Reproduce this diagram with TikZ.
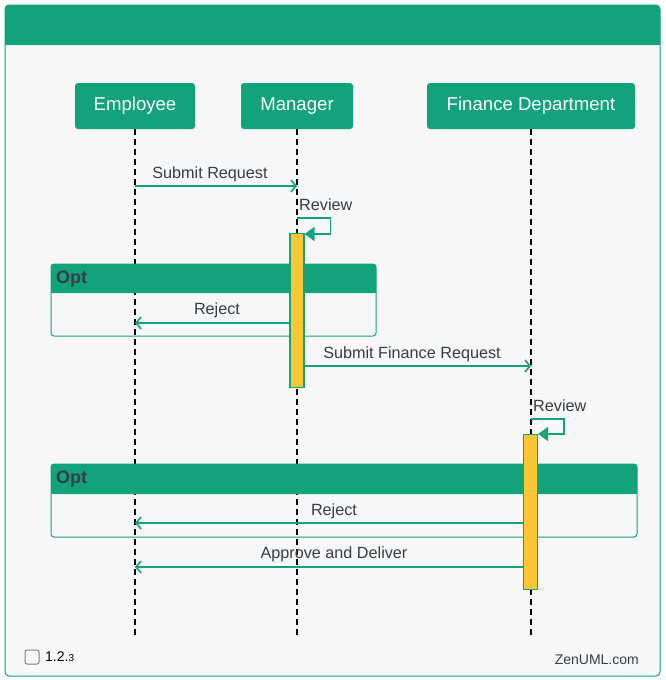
\documentclass[tikz,border=0pt]{standalone}
\usepackage{fontspec}
\setmainfont{Liberation Sans}
\usetikzlibrary{arrows.meta,positioning}
\definecolor{zengreen}{RGB}{18,163,124}
\definecolor{zenyellow}{RGB}{250,199,52}
\definecolor{zentext}{RGB}{55,60,70}
\definecolor{zenbg}{RGB}{247,247,247}

\begin{document}
\begin{tikzpicture}[x = 1pt, y = -1pt,
		actor_node/.style = {rectangle, rounded corners = 3pt, fill = zengreen, text = white, font = \fontsize{18.6}{20}\selectfont, minimum height = 46pt, inner sep = 0pt},
		bar_node/.style = {rectangle, draw = zengreen, fill = zenyellow, line width = 1.2pt, minimum width = 14pt, inner sep = 0pt, anchor = north},
		msg_line/.style = {draw = zengreen, line width = 1.6pt, -{Straight Barb[length = 5pt, width = 12pt]}},
		self_line/.style = {draw = zengreen, line width = 1.6pt, -{Triangle[length = 10pt, width = 14pt]}},
		msg_label/.style = {text = zentext, font = \fontsize{16.2}{18}\selectfont, inner sep = 0pt},
		life_line/.style = {dash pattern = on 6pt off 4pt, line width = 1.1pt},
		opt_frame/.style = {draw = zengreen, rounded corners = 3pt, line width = 1pt},
		opt_label/.style = {text = zentext, font = \fontsize{18}{20}\selectfont\bfseries, inner sep = 0pt, anchor = west},
		]
		\useasboundingbox (0,0) rectangle (665,680);
		\fill[white] (0,0) rectangle (665,680);
		
		%frame
		\draw[zengreen, fill = zenbg, rounded corners = 4pt, line width = 1pt] (5,5) rectangle (660,676);
		\fill[zengreen, rounded corners = 4pt] (5,5) rectangle (660,45);
		\fill[zengreen] (5,30) rectangle (660,45);
		
		%actors
		\node[actor_node, minimum width = 120pt](emp) at (135,106){Employee};
		\node[actor_node, minimum width = 112pt](mgr) at (297,106){Manager};
		\node[actor_node, minimum width = 208pt](fin) at (531,106){Finance Department};
		
		%lifelines
		\coordinate (emp_end) at (135,635);
		\coordinate (mgr_end) at (297,635);
		\coordinate (fin_end) at (531,635);
		\draw[life_line] (emp.south) -- (emp_end);
		\draw[life_line] (mgr.south) -- (mgr_end);
		\draw[life_line] (fin.south) -- (fin_end);
		
		%opt frames
		\draw[opt_frame] (51,264) rectangle (376,336);
		\fill[zengreen, rounded corners = 3pt] (51,264) rectangle (376,293);
		\fill[zengreen] (51,280) rectangle (376,293);
		\node[opt_label] (opt1) at (56,279){Opt};
		
		\draw[opt_frame] (51,464) rectangle (637,537);
		\fill[zengreen, rounded corners = 3pt] (51,464) rectangle (637,494);
		\fill[zengreen] (51,480) rectangle (637,494);
		\node[opt_label] (opt2) at (56,479){Opt};
		
		%activations
		\node[bar_node, minimum height = 154pt](mgr_bar) at (297,233){};
		\node[bar_node, minimum height = 155pt](fin_bar) at (530.5,434){};
		
		%messages
		\coordinate (emp_m1) at (135,186);
		\draw[msg_line] (emp_m1) -- (mgr.south |- emp_m1);
		\node[msg_label](m1) at (210,174){Submit Request};
		
		\draw[self_line] (297,218) -- (330.5,218) -- (330.5,234) -- (mgr_bar.east |- 0,234);
		\node[msg_label, anchor = west](m2) at (299,205){Review};
		
		\coordinate (emp_m3) at (135,323);
		\draw[msg_line] (mgr_bar.west |- emp_m3) -- (emp_m3);
		\node[msg_label](m3) at (217,310){Reject};
		
		\coordinate (fin_m4) at (531,366);
		\draw[msg_line] (mgr_bar.east |- fin_m4) -- (fin_m4);
		\node[msg_label](m4) at (412,354){Submit Finance Request};
		
		\draw[self_line] (531,419) -- (564,419) -- (564,434) -- (fin_bar.east |- 0,434);
		\node[msg_label, anchor = west](m5) at (533,406){Review};
		
		\coordinate (emp_m6) at (135,523);
		\draw[msg_line] (fin_bar.west |- emp_m6) -- (emp_m6);
		\node[msg_label](m6) at (334,511){Reject};
		
		\coordinate (emp_m7) at (135,567);
		\draw[msg_line] (fin_bar.west |- emp_m7) -- (emp_m7);
		\node[msg_label](m7) at (334,554){Approve and Deliver};
		
		%footer
		\draw[gray, line width = 1pt, rounded corners = 2pt] (25,650) rectangle (39,664);
		\node[text = black, font = \fontsize{14}{16}\selectfont, anchor = west, inner sep = 0pt](ver) at (45,657){1.2.{\fontsize{10}{12}\selectfont 3}};
		\node[text = zentext, font = \fontsize{14}{16}\selectfont, anchor = east, inner sep = 0pt](brand) at (639,660){ZenUML.com};

\end{tikzpicture}
\end{document}
